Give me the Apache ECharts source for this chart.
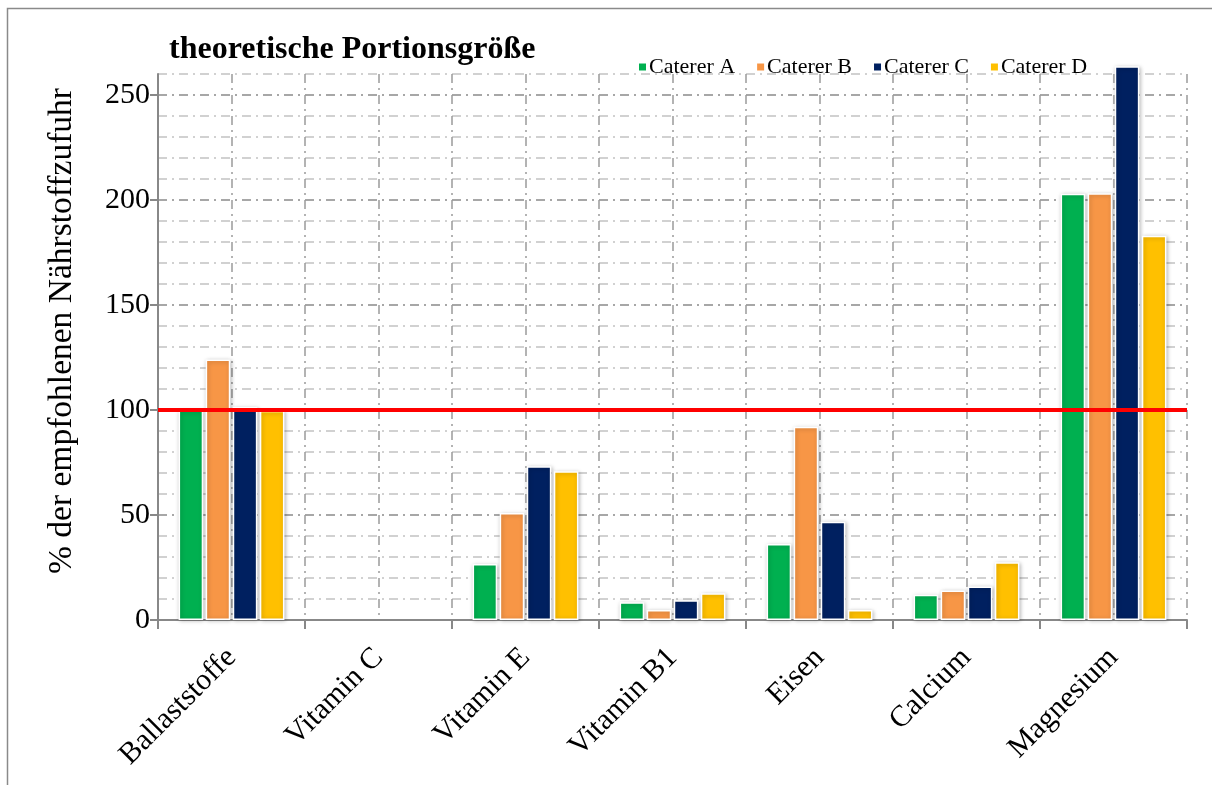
<!DOCTYPE html>
<html>
<head>
<meta charset="utf-8">
<script src="https://cdn.jsdelivr.net/npm/echarts@6/dist/echarts.min.js"></script>
<style>
  html, body { margin: 0; padding: 0; background: #fff; }
  #chart { width: 1212px; height: 785px; }
</style>
</head>
<body>
<div id="chart"></div>
<script>
const categories = ['Ballaststoffe', 'Vitamin C', 'Vitamin E', 'Vitamin B1', 'Eisen', 'Calcium', 'Magnesium'];
const catererA = [100, 0, 26.7, 8.4, 36.2, 12, 203];
const catererB = [124, 0, 51, 4.8, 92, 14, 203.2];
const catererC = [101.4, 0, 73.2, 9.4, 46.8, 15.9, 263.7];
const catererD = [99.7, 0, 70.8, 12.7, 4.8, 27.5, 183];
const yTicks = [0, 50, 100, 150, 200, 250];
const referenceLine = 100;

const serif = '"Liberation Serif", "DejaVu Serif", serif';
const chart = echarts.init(document.getElementById('chart'));

function barSeries(name, data, color) {
    return {
        name: name,
        type: 'bar',
        // zero bars: no border/shadow so nothing shows
        data: data.map(v => v === 0 ? { value: v, itemStyle: { borderWidth: 0, shadowBlur: 0, shadowOffsetX: 0, shadowOffsetY: 0 } } : v),
        clip: false,
        barGap: '10%',
        barCategoryGap: '28%',
        itemStyle: {
            color: color,
            borderColor: '#fff',
            borderWidth: 1.5,
            shadowBlur: 4,
            shadowColor: 'rgba(0,0,0,0.25)',
            shadowOffsetX: 1,
            shadowOffsetY: 1
        }
    };
}

const series = [
    barSeries('Caterer A', catererA, '#00b050'),
    barSeries('Caterer B', catererB, '#f79646'),
    barSeries('Caterer C', catererC, '#002060'),
    barSeries('Caterer D', catererD, '#ffc000')
];
series[3].markLine = {
    silent: true,
    symbol: 'none',
    label: { show: false },
    lineStyle: { color: '#ff0000', width: 4, type: 'solid' },
    data: [{ yAxis: referenceLine }]
};

const dashDot = [9, 5, 2, 5];

const option = {
    animation: false,
    title: {
        text: 'theoretische Portionsgröße',
        left: 164,
        top: 29,
        textStyle: { fontFamily: serif, fontWeight: 'bold', fontSize: 32, color: '#000' }
    },
    legend: {
        left: 632,
        top: 51,
        itemWidth: 9,
        itemHeight: 9,
        itemGap: 20,
        icon: 'rect',
        textStyle: { fontFamily: serif, fontSize: 22, color: '#000', padding: [0, 0, 0, -3] },
        data: ['Caterer A', 'Caterer B', 'Caterer C', 'Caterer D']
    },
    grid: { left: 158, right: 25, top: 74, bottom: 165 },
    xAxis: [
        {
            type: 'category',
            data: categories,
            axisLine: { lineStyle: { color: '#888', width: 2 } },
            axisTick: { show: true, length: 9, lineStyle: { color: '#888', width: 2 } },
            axisLabel: { rotate: 45, fontFamily: serif, fontSize: 30, color: '#000', margin: 33 },
            splitLine: { show: false }
        },
        {
            // vertical dash-dot lines at category edges and centres
            type: 'value',
            min: 0,
            max: categories.length * 2,
            interval: 1,
            position: 'bottom',
            axisLine: { show: false },
            axisTick: { show: false },
            axisLabel: { show: false },
            splitLine: { show: true, lineStyle: { color: '#9a9a9a', width: 1.5, type: dashDot } }
        }
    ],
    yAxis: [
        {
            type: 'value',
            min: 0,
            max: 260,
            interval: 10,
            name: '% der empfohlenen Nährstoffzufuhr',
            nameLocation: 'middle',
            nameGap: 79,
            nameTextStyle: { fontFamily: serif, fontSize: 33.5, color: '#000', padding: [0, 0, 0, 32] },
            axisLine: { show: true, lineStyle: { color: '#888', width: 2 } },
            axisTick: { show: true, length: 8, customValues: yTicks, lineStyle: { color: '#888', width: 2 } },
            axisLabel: { customValues: yTicks, fontFamily: serif, fontSize: 30, color: '#000', margin: 8 },
            splitLine: { show: false }
        },
        {
            type: 'value',
            min: 0,
            max: 260,
            interval: 10,
            position: 'left',
            axisLine: { show: false },
            axisTick: { show: false },
            axisLabel: { show: false },
            splitLine: {
                show: true,
                lineStyle: {
                    color: ['#8a8a8a', '#c2c2c2', '#c2c2c2', '#c2c2c2', '#c2c2c2'],
                    width: 1.5,
                    type: dashDot
                }
            }
        }
    ],
    graphic: [
        {
            type: 'rect',
            left: 5,
            top: 6,
            shape: { width: 1240, height: 820 },
            style: { fill: 'none', stroke: '#8a8a8a', lineWidth: 1.5 },
            silent: true
        }
    ],
    series: series
};

chart.setOption(option);
</script>
</body>
</html>
